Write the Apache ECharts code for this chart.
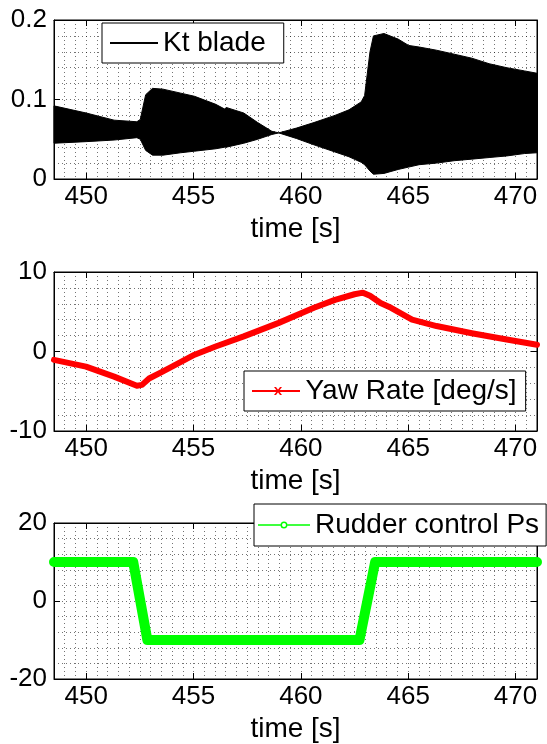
<!DOCTYPE html>
<html><head><meta charset="utf-8">
<script src="https://cdn.jsdelivr.net/npm/echarts@6/dist/echarts.min.js"></script>
<style>html,body{margin:0;padding:0;background:#fff}#c{width:547px;height:744px}</style>
</head><body><div id="c"></div>
<script>
// ---- data ----
const xTicks = [450, 455, 460, 465, 470];
const xRange = [448.5, 471];

const ktTime  = [448.5, 450.0, 451.3, 452.36, 452.52, 452.77, 453.09, 453.58, 454.40, 455.05, 456.03, 456.45, 456.52, 457.34, 457.99, 458.65, 458.97, 459.79, 460.61, 461.59, 462.24, 462.81, 462.97, 463.22, 463.38, 463.87, 464.53, 465.02, 465.51, 466.32, 467.14, 467.96, 468.77, 469.59, 470.41, 471.0];
const ktUpper = [0.092, 0.083, 0.074, 0.072, 0.075, 0.106, 0.114, 0.113, 0.108, 0.104, 0.094, 0.088, 0.090, 0.083, 0.071, 0.060, 0.058, 0.064, 0.071, 0.080, 0.087, 0.097, 0.105, 0.160, 0.180, 0.183, 0.176, 0.168, 0.166, 0.162, 0.157, 0.152, 0.145, 0.140, 0.136, 0.133];
const ktLower = [0.045, 0.047, 0.049, 0.052, 0.050, 0.036, 0.030, 0.030, 0.033, 0.035, 0.038, 0.040, 0.040, 0.045, 0.050, 0.056, 0.058, 0.051, 0.043, 0.034, 0.028, 0.021, 0.018, 0.010, 0.006, 0.007, 0.012, 0.015, 0.018, 0.020, 0.023, 0.025, 0.027, 0.029, 0.032, 0.033];
const ktYTicks = [0, 0.1, 0.2];

const yawTime = [448.5, 449.99, 451.3, 452.36, 452.6, 452.93, 453.58, 455.05, 456.03, 457.34, 458.97, 460.61, 461.59, 462.5, 462.89, 463.22, 463.71, 464.2, 465.18, 466.32, 467.96, 469.59, 471.0];
const yawRate = [-1.05, -1.9, -3.16, -4.3, -4.2, -3.4, -2.5, -0.4, 0.63, 1.9, 3.6, 5.5, 6.5, 7.2, 7.4, 7.0, 6.1, 5.5, 4.0, 3.2, 2.3, 1.5, 0.84];
const yawYTicks = [-10, 0, 10];

const rudTime = [448.5, 452.19, 452.85, 462.73, 463.46, 471.0];
const rudder  = [10, 10, -10, -10, 10, 10];
const rudYTicks = [-20, 0, 20];

// ---- chart ----
const FONT = 'Liberation Sans, Arial, sans-serif';
const zip = (a, b) => a.map((v, i) => [v, b[i]]);
const dot = { color: 'rgba(0,0,0,0.55)', width: 1, type: [1, 3] };
const panelTops = [20, 272, 523];
const yTickSets = [ktYTicks, yawYTicks, rudYTicks];

const grid = [], xAxis = [], yAxis = [];
panelTops.forEach((top, i) => {
  grid.push({ left: 54, top: top, width: 483, height: 159, show: true, borderColor: '#000', borderWidth: 1, backgroundColor: 'transparent' });
  xAxis.push({ gridIndex: i, type: 'value', min: xRange[0], max: xRange[1], position: 'bottom',
    name: 'time [s]', nameLocation: 'middle', nameGap: 36,
    nameTextStyle: { fontSize: 28, color: '#000', fontFamily: FONT },
    axisLine: { show: true, onZero: false, lineStyle: { color: '#000', width: 1 } },
    axisTick: { show: true, inside: true, length: 6, customValues: xTicks, lineStyle: { color: '#000' } },
    axisLabel: { show: true, customValues: xTicks, margin: 5, fontSize: 26, color: '#000', fontFamily: FONT },
    splitLine: { show: false } });
  xAxis.push({ gridIndex: i, type: 'value', min: xRange[0], max: xRange[1], position: 'top',
    axisLine: { show: true, onZero: false, lineStyle: { color: '#000', width: 1 } },
    axisTick: { show: true, inside: true, length: 6, customValues: xTicks, lineStyle: { color: '#000' } },
    axisLabel: { show: false }, splitLine: { show: false } });
  xAxis.push({ gridIndex: i, type: 'value', min: xRange[0], max: xRange[1], interval: 0.5, position: 'bottom',
    axisLine: { show: false, onZero: false }, axisTick: { show: false }, axisLabel: { show: false },
    splitLine: { show: true, lineStyle: dot } });
  const t = yTickSets[i];
  const iv = t[1] - t[0];
  yAxis.push({ gridIndex: i, type: 'value', min: t[0], max: t[t.length - 1], interval: iv, position: 'left',
    axisLine: { show: true, onZero: false, lineStyle: { color: '#000', width: 1 } },
    axisTick: { show: true, inside: true, length: 6, lineStyle: { color: '#000' } },
    axisLabel: { show: true, margin: 7, fontSize: 26, color: '#000', fontFamily: FONT },
    splitLine: { show: true, lineStyle: dot },
    minorTick: { show: false, splitNumber: 5 },
    minorSplitLine: { show: true, lineStyle: dot } });
  yAxis.push({ gridIndex: i, type: 'value', min: t[0], max: t[t.length - 1], interval: iv, position: 'right',
    axisLine: { show: true, onZero: false, lineStyle: { color: '#000', width: 1 } },
    axisTick: { show: true, inside: true, length: 6, lineStyle: { color: '#000' } },
    axisLabel: { show: false }, splitLine: { show: false } });
});

const legendText = { fontSize: 28, color: '#000', fontFamily: FONT };
const legendBase = { orient: 'horizontal', selectedMode: false, backgroundColor: '#fff', borderColor: '#000', borderWidth: 1, borderRadius: 0, textStyle: legendText, itemGap: 0 };

const option = {
  animation: false,
  backgroundColor: '#fff',
  textStyle: { fontFamily: FONT },
  grid, xAxis, yAxis,
  legend: [
    Object.assign({}, legendBase, { left: 102, top: 23, padding: [6, 18, 6, 8], itemWidth: 48, itemHeight: 2,
      data: [{ name: 'Kt blade', icon: 'rect' }] }),
    Object.assign({}, legendBase, { left: 244, top: 371, padding: [6, 9, 6, 8], itemWidth: 49, itemHeight: 8,
      data: [{ name: 'Yaw Rate [deg/s]', icon: 'path://M0,5 L48,5 L48,7 L0,7 Z M22,2 L24,2 L30,10 L28,10 Z M28,2 L30,2 L24,10 L22,10 Z' }] }),
    Object.assign({}, legendBase, { left: 254, top: 504, padding: [7, 7, 7, 4], itemWidth: 52, itemHeight: 7,
      data: [{ name: 'Rudder control Ps', icon: 'path://M0,3.3 L22.5,3.3 L22.5,4.7 L0,4.7 Z M29.5,3.3 L52,3.3 L52,4.7 L29.5,4.7 Z M26,0.5 A3.5,3.5 0 1 1 25.99,0.5 Z M26,2 A2,2 0 1 0 26.01,2 Z' }] })
  ],
  series: [
    { name: 'Kt blade', type: 'custom', xAxisIndex: 0, yAxisIndex: 0, color: '#000',
      data: ktTime.map((t, i) => [t, ktUpper[i], ktLower[i]]),
      encode: { x: 0, y: [1, 2] },
      renderItem: function (params, api) {
        if (params.dataIndex !== 0) return null;
        const pts = [];
        for (let i = 0; i < ktTime.length; i++) pts.push(api.coord([ktTime[i], ktUpper[i]]));
        for (let i = ktTime.length - 1; i >= 0; i--) pts.push(api.coord([ktTime[i], ktLower[i]]));
        return { type: 'polygon', shape: { points: pts }, style: { fill: '#000', stroke: '#000', lineWidth: 1 } };
      } },
    { name: 'Yaw Rate [deg/s]', type: 'line', xAxisIndex: 3, yAxisIndex: 2, symbol: 'none', color: '#ff0000', clip: false,
      lineStyle: { color: '#ff0000', width: 6, cap: 'round', join: 'round' }, data: zip(yawTime, yawRate) },
    { name: 'Rudder control Ps', type: 'line', xAxisIndex: 6, yAxisIndex: 4, symbol: 'none', color: '#00ff00', clip: false,
      lineStyle: { color: '#00ff00', width: 10, cap: 'round', join: 'round' }, data: zip(rudTime, rudder) }
  ]
};
const chart = echarts.init(document.getElementById('c'), null, { renderer: 'canvas' });
chart.setOption(option);
</script></body></html>
